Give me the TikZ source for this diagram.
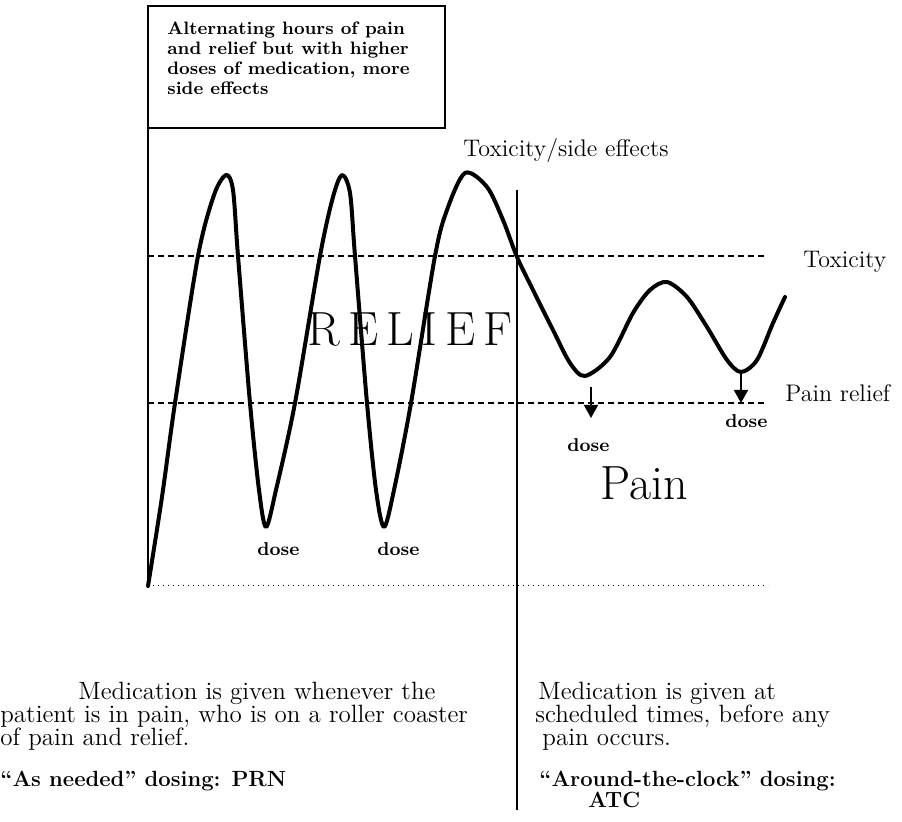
\documentclass[tikz,border=0pt]{standalone}
\usepackage{fontspec}
\usepackage{tikz}
\usetikzlibrary{arrows.meta}
\tikzset{
  wave/.style   ={line width=2pt, line join=round, line cap=round},
  frame/.style  ={line width=0.8pt},
  level/.style  ={line width=0.7pt, dash pattern=on 3pt off 2pt},
  floor/.style  ={line width=0.5pt, dotted},
  dosearr/.style={-{Triangle[length=6.5pt,width=7pt]}, line width=0.8pt},
  txt/.style    ={inner sep=0pt, anchor=base west, font=\fontsize{12.5}{14}\selectfont},
  txtb/.style   ={txt, font=\fontsize{11}{13}\selectfont\bfseries},
  boxtxt/.style ={txt, font=\fontsize{9}{10}\selectfont\bfseries},
  doselbl/.style={txt, font=\fontsize{9.3}{11}\selectfont\bfseries},
  lbl/.style    ={txt, font=\fontsize{12}{14}\selectfont},
  big/.style    ={txt, font=\fontsize{24}{26}\selectfont},
}

\begin{document}
\begin{tikzpicture}[x=0.5pt, y=-0.5pt]
  \useasboundingbox (0,0) rectangle (902,822);
  \coordinate (origin) at (148,586);
  \coordinate (boxtl)  at (148,6);
  \coordinate (boxtr)  at (445,6);
  \coordinate (boxbr)  at (445,128);
  \coordinate (boxbl)  at (148,128);
  \coordinate (floorr) at (768,586);
  \coordinate (toxl)   at (148,256);
  \coordinate (toxr)   at (767,256);
  \coordinate (painl)  at (148,403);
  \coordinate (painr)  at (765,403);
  \coordinate (septop) at (517,190);
  \coordinate (sepbot) at (517,810);
  \draw[frame] (origin) -- (boxtl) -- (boxtr) -- (boxbr) -- (boxbl);
  \draw[floor] (origin) -- (floorr);
  \draw[level] (toxl) -- (toxr);
  \draw[level] (painl) -- (painr);
  \draw[frame] (septop) -- (sepbot);

  \node[boxtxt] (note1) at (167,35) {Alternating hours of pain};
  \node[boxtxt] (note2) at (167,55) {and relief but with higher};
  \node[boxtxt] (note3) at (167,75) {doses of medication, more};
  \node[boxtxt] (note4) at (167,95) {side effects};

  \draw[wave] plot[smooth, tension=0.5] coordinates {
    (148,586) (162,497) (175,403) (198,256) (214,195) (226,175)
    (233,190) (238,256) (250,403) (259,490) (266,527)
    (276,490) (295,403) (320,256) (333,197) (342,175)
    (350,193) (355,256) (367,403) (376,490) (384,527)
    (394,490) (411,403) (435,256) (447,210) (465,173)
    (487,187) (503,220) (517,257) (533,290) (553,330) (570,363) (585,376)
    (610,357) (633,313) (650,290) (667,282) (687,297) (707,327) (727,360)
    (741,372) (757,360) (773,323) (785,297)};

  \coordinate (dip2)  at (591,387);
  \coordinate (tip2)  at (591,418);
  \coordinate (dip3)  at (741,372);
  \coordinate (tip3)  at (741,403);
  \draw[dosearr] (dip2) -- (tip2);
  \draw[dosearr] (dip3) -- (tip3);

  \node[doselbl] (dose0) at (257,556) {dose};
  \node[doselbl] (dose1) at (377,556) {dose};
  \node[doselbl] (dose2) at (567,452) {dose};
  \node[doselbl] (dose3) at (725,428) {dose};

  \node[lbl] (side)   at (463,157) {Toxicity/side effects};
  \node[lbl] (toxlbl) at (803,268) {Toxicity};
  \node[lbl] (painlbl) at (785,402) {Pain relief};
  \node[big] (relief) at (307,346) {R\,E\,L\,I\,E\,F};
  \node[big] (pain)   at (600,500) {Pain};

  \node[txt]  (prn1) at (78,700) {Medication is given whenever the};
  \node[txt]  (prn2) at (0,723)  {patient is in pain, who is on a roller coaster};
  \node[txt]  (prn3) at (0,746)  {of pain and relief.};
  \node[txtb] (prn4) at (0,787)  {“As needed” dosing: PRN};
  \node[txt]  (atc1) at (538,700) {Medication is given at};
  \node[txt]  (atc2) at (535,723) {scheduled times, before any};
  \node[txt]  (atc3) at (542,746) {pain occurs.};
  \node[txtb] (atc4) at (539,787) {“Around-the-clock” dosing:};
  \node[txtb] (atc5) at (588,808) {ATC};
\end{tikzpicture}
\end{document}
